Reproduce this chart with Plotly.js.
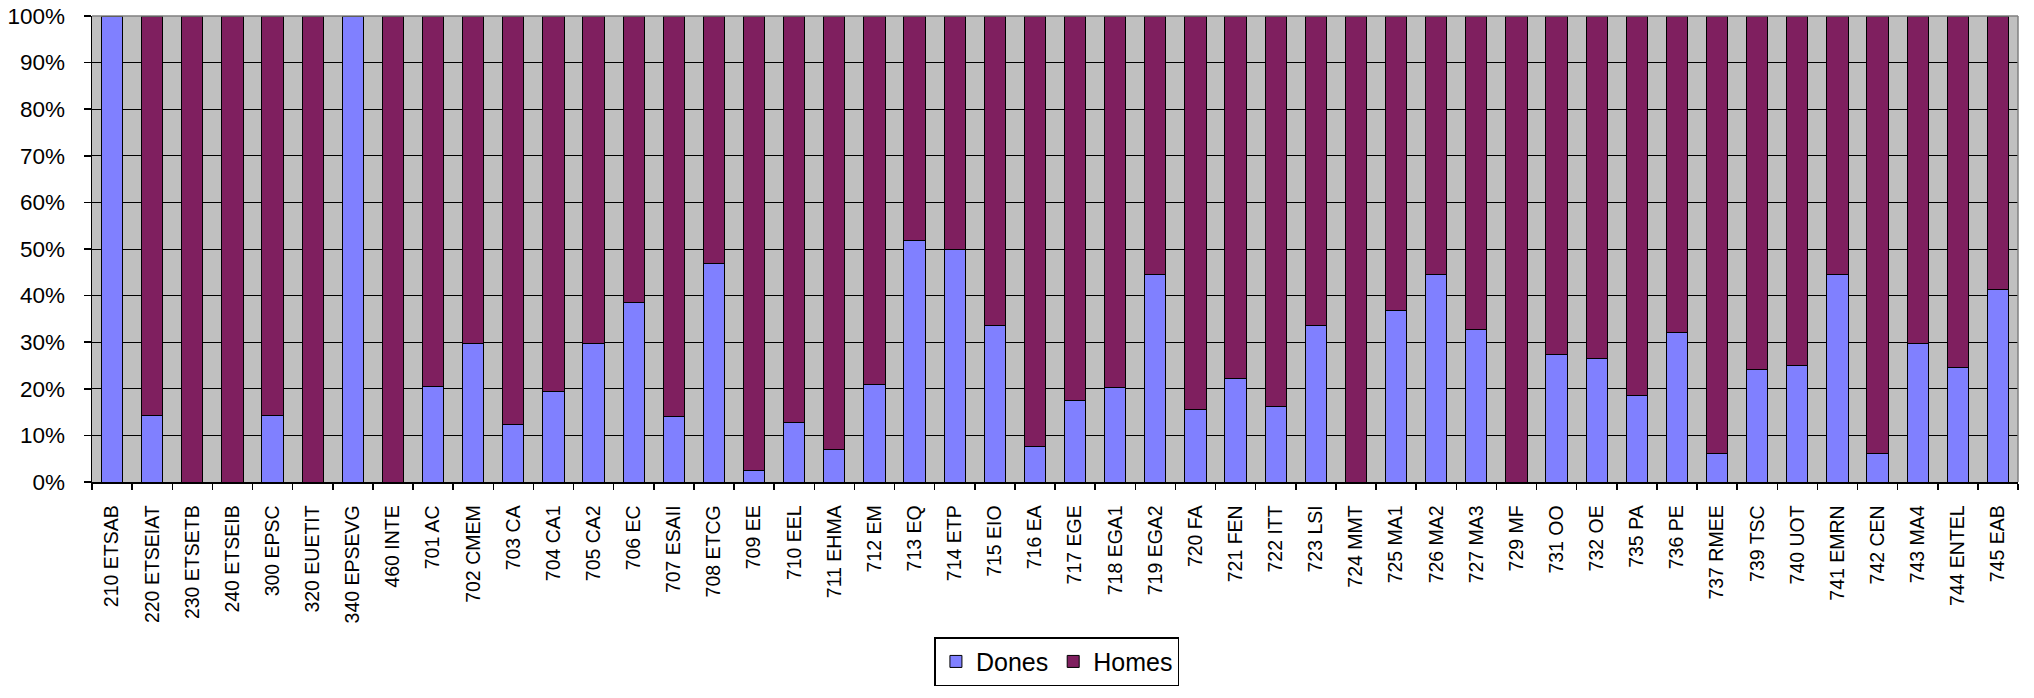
<!DOCTYPE html>
<html>
<head>
<meta charset="utf-8">
<script src="https://cdn.plot.ly/plotly-3.0.1.min.js"></script>
<style>html,body{margin:0;padding:0;background:#fff;}</style>
</head>
<body>
<div id="chart" style="width:2034px;height:698px;"></div>
<script>
const categories = ["210 ETSAB","220 ETSEIAT","230 ETSETB","240 ETSEIB","300 EPSC","320 EUETIT","340 EPSEVG","460 INTE",
  "701 AC","702 CMEM","703 CA","704 CA1","705 CA2","706 EC","707 ESAII","708 ETCG","709 EE","710 EEL","711 EHMA","712 EM",
  "713 EQ","714 ETP","715 EIO","716 EA","717 EGE","718 EGA1","719 EGA2","720 FA","721 FEN","722 ITT","723 LSI","724 MMT",
  "725 MA1","726 MA2","727 MA3","729 MF","731 OO","732 OE","735 PA","736 PE","737 RMEE","739 TSC","740 UOT","741 EMRN",
  "742 CEN","743 MA4","744 ENTEL","745 EAB"];
const dones = [100,14.3,0,0,14.3,0,100,0,
  20.6,29.7,12.4,19.4,29.7,38.6,14.0,46.9,2.5,12.7,6.9,20.9,
  51.9,50.0,33.5,7.6,17.5,20.2,44.5,15.5,22.2,16.3,33.5,0,
  36.7,44.5,32.7,0,27.3,26.4,18.6,32.0,6.1,24.2,24.9,44.5,
  6.1,29.7,24.5,41.3];
const homes = [0,85.7,100,100,85.7,100,0,100,
  79.4,70.3,87.6,80.6,70.3,61.4,86.0,53.1,97.5,87.3,93.1,79.1,
  48.1,50.0,66.5,92.4,82.5,79.8,55.5,84.5,77.8,83.7,66.5,100,
  63.3,55.5,67.3,100,72.7,73.6,81.4,68.0,93.9,75.8,75.1,55.5,
  93.9,70.3,75.5,58.7];
const yTicks = [0,10,20,30,40,50,60,70,80,90,100];
const yTickText = ["0%","10%","20%","30%","40%","50%","60%","70%","80%","90%","100%"];

const baseFont = "Liberation Sans, Arial, Helvetica, sans-serif";

const traces = [
  {type:"bar", name:"Dones", x:categories, y:dones,
   marker:{color:"#8080FF", line:{color:"#000", width:1}}},
  {type:"bar", name:"Homes", x:categories, y:homes,
   marker:{color:"#7F1F5F", line:{color:"#000", width:1}}}
];

const layout = {
  width:2034, height:698,
  margin:{l:92, r:16, t:16, b:208, pad:0},
  paper_bgcolor:"#fff", plot_bgcolor:"#C0C0C0",
  barmode:"stack", bargap:0.47,
  font:{family:baseFont, color:"#000"},
  showlegend:true,
  legend:{orientation:"h", x:0.501, xanchor:"center", y:-0.333, yanchor:"top",
    bgcolor:"#fff", bordercolor:"#000", borderwidth:1.5,
    font:{family:baseFont, size:25, color:"#000"}, traceorder:"normal"},
  xaxis:{type:"category", showgrid:false, zeroline:false,
    showline:true, linecolor:"#000", linewidth:1.5,
    ticks:"outside", tickson:"boundaries", ticklen:6, tickcolor:"#000", tickwidth:1.5,
    tickangle:-90, ticklabelstandoff:14,
    tickfont:{family:baseFont, size:19.5, color:"#000"}},
  yaxis:{range:[0,100], tickmode:"array", tickvals:yTicks, ticktext:yTickText,
    showgrid:true, gridcolor:"#000", gridwidth:1, zeroline:false,
    showline:true, linecolor:"#000", linewidth:1.5,
    ticks:"outside", ticklen:7, tickcolor:"#000", tickwidth:1.5,
    ticklabelstandoff:14,
    tickfont:{family:baseFont, size:22.5, color:"#000"}},
  shapes:[
    {type:"line", xref:"paper", yref:"paper", x0:0, x1:1, y0:1, y1:1, line:{color:"#808080", width:1.5}},
    {type:"line", xref:"paper", yref:"paper", x0:1, x1:1, y0:0, y1:1, line:{color:"#808080", width:1.5}}
  ]
};

Plotly.newPlot("chart", traces, layout, {displayModeBar:false, staticPlot:true});
</script>
</body>
</html>
